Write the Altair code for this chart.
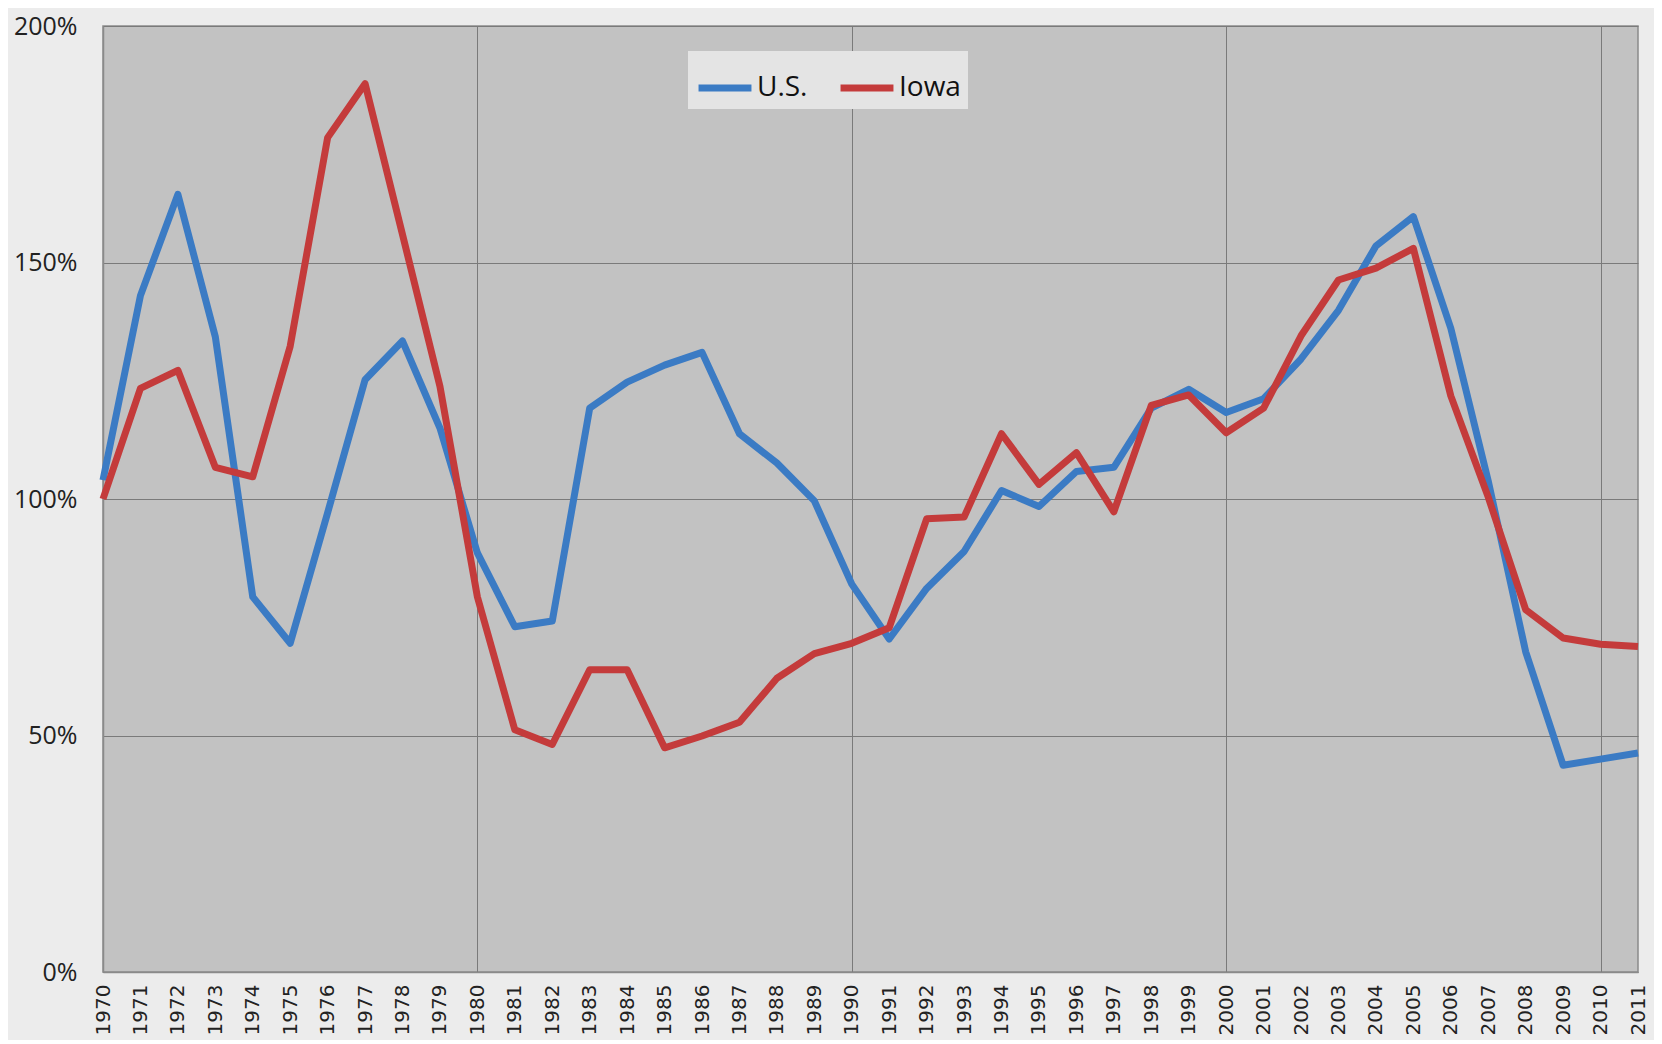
import altair as alt
import pandas as pd

years = list(range(1970, 2012))
us = [104, 143, 164.4, 134.3, 79.3, 69.5, 97.1, 125.2, 133.4, 115,
      88.6, 73, 74.2, 119.2, 124.7, 128.3, 131, 113.8, 107.6, 99.6,
      82, 70.4, 81.1, 88.9, 101.8, 98.4, 105.8, 106.7, 119.2, 123.2,
      118.3, 121.2, 129.6, 139.9, 153.5, 159.7, 136.1, 103.8, 67.7, 43.7,
      45, 46.3]
iowa = [100, 123.4, 127.2, 106.7, 104.7, 132.3, 176.4, 187.8, 155.9, 123.8,
        79.3, 51.2, 48.1, 63.9, 63.9, 47.4, 49.9, 52.8, 62.1, 67.3,
        69.5, 72.8, 95.8, 96.2, 113.8, 103.1, 109.8, 97.3, 119.8, 122,
        114, 119.2, 134.5, 146.3, 148.8, 153, 121.8, 100.4, 76.6, 70.6,
        69.3, 68.8]
series = ["U.S.", "Iowa"]
colors = ["#3b7bc4", "#c43b3b"]

rows = []
for name, vals in zip(series, [us, iowa]):
    for y, v in zip(years, vals):
        rows.append({"year": y, "value": v / 100.0, "series": name})
df = pd.DataFrame(rows)

chart = alt.Chart(df).mark_line(strokeWidth=7, strokeJoin="round").encode(
    x=alt.X("year:Q",
            scale=alt.Scale(domain=[1970, 2011], nice=False, zero=False),
            axis=alt.Axis(values=years, format="d", labelAngle=-90,
                          labelAlign="right", labelBaseline="middle",
                          labelFontSize=20, labelColor="#222222",
                          labelFont="DejaVu Sans", labelPadding=12,
                          ticks=False, domain=True, domainColor="#8a8a8a",
                          domainWidth=1.5, title=None, labelOverlap=False,
                          grid=True, gridColor="#7a7a7a", gridWidth=1,
                          gridOpacity={"condition": {"test": "datum.value % 10 === 0", "value": 1}, "value": 0})),
    y=alt.Y("value:Q",
            scale=alt.Scale(domain=[0, 2], nice=False),
            axis=alt.Axis(values=[0, 0.5, 1, 1.5, 2], format=".0%",
                          labelFontSize=25, labelColor="#222222",
                          labelFont="Open Sans", labelPadding=26,
                          ticks=False, domain=True, domainColor="#8a8a8a",
                          domainWidth=1.5, title=None,
                          grid=True, gridColor="#7a7a7a", gridWidth=1)),
    color=alt.Color("series:N",
                    scale=alt.Scale(domain=series, range=colors),
                    sort=series,
                    legend=alt.Legend(orient="none", legendX=585, legendY=25,
                                      direction="horizontal", title=None,
                                      symbolType="stroke", symbolSize=2800,
                                      symbolStrokeWidth=7,
                                      labelFontSize=28, labelFont="Open Sans",
                                      labelColor="#111111", labelOffset=2,
                                      columnPadding=18, padding=7,
                                      fillColor="#e4e4e4")),
).properties(
    width=1535, height=946,
    background="#ececec",
    padding={"left": 95, "top": 18, "right": 16, "bottom": 68},
    autosize=alt.AutoSizeParams(type="none"),
).configure_view(
    fill="#c2c2c2", stroke="#8a8a8a", strokeWidth=1.5
)

chart.save("out.html", embed_options={"renderer": "svg", "actions": False})
